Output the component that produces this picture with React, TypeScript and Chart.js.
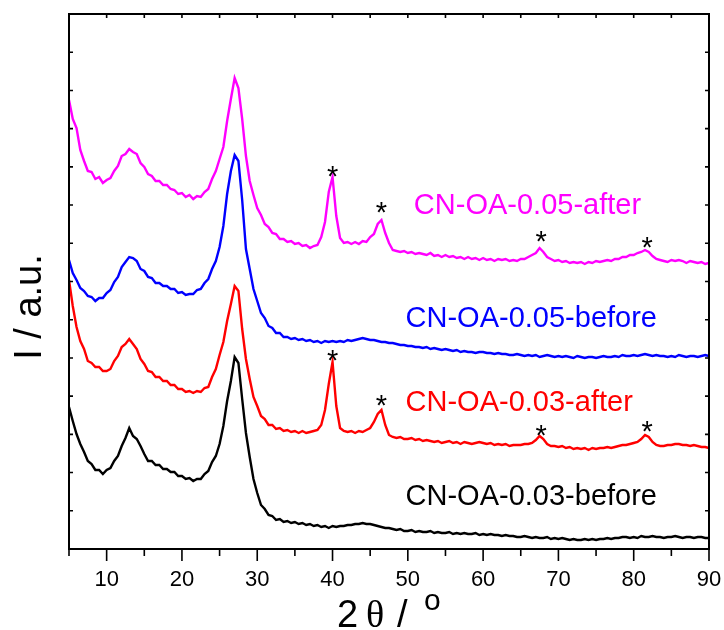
import React, { useEffect, useRef } from "react";
import { Chart, registerables } from "chart.js";

Chart.register(...registerables);

// 2θ sampling grid (degrees)
const theta = [
  5, 5.5, 6, 6.5, 7, 7.5, 8, 8.5, 9, 9.5,
  10, 10.5, 11, 11.5, 12, 12.5, 13, 13.5, 14, 14.5,
  15, 15.5, 16, 16.5, 17, 17.5, 18, 18.5, 19, 19.5,
  20, 20.5, 21, 21.5, 22, 22.5, 23, 23.5, 24, 24.5,
  25, 25.5, 26, 26.5, 27, 27.5, 28, 28.5, 29, 29.5,
  30, 30.5, 31, 31.5, 32, 32.5, 33, 33.5, 34, 34.5,
  35, 35.5, 36, 36.5, 37, 37.5, 38, 38.5, 39, 39.5,
  40, 40.5, 41, 41.5, 42, 42.5, 43, 43.5, 44, 44.5,
  45, 45.5, 46, 46.5, 47, 47.5, 48, 48.5, 49, 49.5,
  50, 50.5, 51, 51.5, 52, 52.5, 53, 53.5, 54, 54.5,
  55, 55.5, 56, 56.5, 57, 57.5, 58, 58.5, 59, 59.5,
  60, 60.5, 61, 61.5, 62, 62.5, 63, 63.5, 64, 64.5,
  65, 65.5, 66, 66.5, 67, 67.5, 68, 68.5, 69, 69.5,
  70, 70.5, 71, 71.5, 72, 72.5, 73, 73.5, 74, 74.5,
  75, 75.5, 76, 76.5, 77, 77.5, 78, 78.5, 79, 79.5,
  80, 80.5, 81, 81.5, 82, 82.5, 83, 83.5, 84, 84.5,
  85, 85.5, 86, 86.5, 87, 87.5, 88, 88.5, 89, 89.5,
  90,
];

// Intensities (a.u., offset stacked)
const cnOa005After = [
  449, 430, 421, 399, 388, 378, 377, 370, 372, 366,
  369, 371, 378, 383, 393, 395, 400, 397, 395, 386,
  382, 375, 373, 368, 368, 364, 364, 360, 359, 355,
  356, 352, 354, 350, 353, 352, 357, 360, 370, 378,
  390, 402, 428, 450, 471, 461, 430, 393, 368, 354,
  341, 334, 325, 322, 316, 315, 310, 310, 307, 308,
  305, 306, 303, 304, 301, 303, 304, 312, 327, 357,
  372, 333, 311, 306, 307, 305, 307, 305, 308, 307,
  312, 315, 325, 329, 316, 306, 299, 298, 297, 298,
  296, 297, 295, 296, 295, 294, 296, 293, 294, 292,
  294, 292, 293, 291, 292, 290, 292, 290, 291, 289,
  291, 289, 290, 288, 290, 289, 290, 288, 289, 288,
  290, 290, 292, 294, 296, 301, 297, 292, 290, 288,
  289, 287, 288, 286, 287, 286, 287, 285, 287, 286,
  288, 287, 288, 289, 288, 290, 290, 292, 292, 294,
  294, 296, 297, 299, 297, 293, 290, 289, 288, 287,
  289, 288, 289, 288, 286, 288, 287, 286, 287, 285,
  286,
];

const cnOa005Before = [
  289, 276, 269, 261, 258, 253, 252, 248, 251, 251,
  256, 259, 267, 272, 282, 287, 292, 291, 288, 280,
  278, 272, 271, 266, 266, 263, 263, 260, 260, 256,
  257, 254, 255, 255, 259, 260, 266, 270, 280, 288,
  302, 323, 355, 378, 394, 388, 349, 300, 280, 260,
  248, 236, 231, 223, 221, 216, 216, 212, 212, 210,
  211, 209, 210, 208, 209, 207, 208, 206, 208, 207,
  208, 207, 208, 207, 209, 208, 209, 210, 211, 210,
  209, 209, 208, 207, 207, 206, 206, 205, 204, 204,
  203, 203, 202, 202, 201, 202, 200, 201, 200, 199,
  200, 199, 198, 199, 197, 198, 197, 197, 196, 197,
  197, 196, 196, 195, 196, 195, 195, 194, 194, 195,
  194, 193, 194, 193, 194, 192, 193, 194, 193, 192,
  193, 192, 193, 192, 191, 193, 192, 191, 192, 192,
  191, 192, 193, 192, 192, 193, 192, 194, 193, 193,
  194, 193, 194, 195, 194, 193, 194, 193, 193, 192,
  193, 192, 194, 193, 192, 193, 193, 192, 193, 194,
  193,
];

const cnOa003After = [
  269, 243, 222, 208, 200, 188, 186, 182, 182, 178,
  178, 180, 188, 193, 202, 205, 210, 205, 200, 190,
  185, 178, 177, 172, 172, 168, 168, 164, 164, 160,
  160, 157, 158, 156, 158, 157, 161, 162, 172, 180,
  194, 207, 228, 245, 263, 258, 220, 190, 170, 152,
  143, 133, 130, 124, 124, 120, 121, 118, 119, 117,
  118, 116, 118, 116, 117, 118, 119, 124, 139, 165,
  187, 143, 121, 118, 117, 118, 116, 118, 117, 119,
  121, 127, 135, 139, 124, 114, 112, 111, 112, 110,
  110, 111, 109, 110, 108, 109, 108, 107, 108, 106,
  107, 108, 106, 107, 105, 107, 106, 105, 106, 107,
  106, 105, 106, 104, 105, 104, 105, 103, 104, 104,
  104, 105, 105, 106, 109, 113, 110, 105, 103, 103,
  102, 103, 101, 102, 100, 101, 100, 101, 99, 101,
  100, 101, 101, 102, 101, 102, 103, 104, 104, 105,
  106, 107, 110, 114, 112, 107, 104, 103, 103, 104,
  104, 105, 105, 104, 104, 103, 104, 103, 102, 102,
  101,
];

const cnOa003Before = [
  142, 128, 115, 105, 97, 88, 85, 79, 79, 75,
  79, 81, 88, 93, 103, 111, 121, 113, 110, 103,
  95, 88, 88, 84, 84, 80, 80, 77, 77, 73,
  73, 70, 71, 68, 70, 70, 75, 78, 87, 93,
  105, 123, 148, 168, 192, 186, 150, 116, 92, 70,
  56, 44, 40, 34, 33, 29, 30, 27, 28, 26,
  27, 25, 26, 24, 25, 23, 24, 22, 23, 21,
  23, 22, 23, 23, 24, 24, 25, 25, 26, 25,
  25, 24, 23, 22, 21, 21, 20, 19, 20, 18,
  18, 19, 17, 18, 17, 17, 18, 16, 17, 16,
  16, 17, 15, 16, 15, 16, 15, 15, 16, 14,
  15, 14, 15, 14, 14, 13, 14, 13, 13, 12,
  12, 13, 12, 11, 12, 11, 11, 12, 10, 11,
  10, 11, 10, 9, 10, 9, 9, 10, 9, 10,
  9, 10, 10, 11, 10, 11, 11, 12, 12, 11,
  12, 11, 13, 12, 12, 13, 12, 12, 11, 12,
  12, 13, 12, 11, 12, 12, 11, 12, 12, 11,
  11,
];

const seriesNames = ["CN-OA-0.05-after", "CN-OA-0.05-before", "CN-OA-0.03-after", "CN-OA-0.03-before"];
const seriesColors = ["#ff00ff", "#0000ff", "#ff0000", "#000000"];
const seriesData = [cnOa005After, cnOa005Before, cnOa003After, cnOa003Before];

// in-plot label anchors (2θ, level)
const labelTheta = [50.8, 49.7, 49.7, 49.7];
const labelLevel = [335, 222, 138, 44];

// asterisk marks (2θ, level) over the "after" patterns
const starTheta = [40, 46.5, 67.7, 81.8];
const starLevel005After = [380, 344, 315, 309];
const starLevel003After = [196, 151, 121, 125];

const xTickValues = [5, 10, 15, 20, 25, 30, 35, 40, 45, 50, 55, 60, 65, 70, 75, 80, 85, 90];
const xTickLabels = ["", "10", "", "20", "", "30", "", "40", "", "50", "", "60", "", "70", "", "80", "", "90"];
const yTickValues = [0, 38.21, 76.43, 114.64, 152.86, 191.07, 229.29, 267.5, 305.71, 343.93, 382.14, 420.36, 458.57, 496.79, 535];

const SANS = "'Liberation Sans', Arial, sans-serif";
const SERIF = "'Liberation Serif', 'Times New Roman', serif";

const decorPlugin = {
  id: "decor",
  afterDraw(chart: any) {
    const ctx = chart.ctx;
    const { left, right, top, bottom } = chart.chartArea;
    const xs = chart.scales.x;
    const ys = chart.scales.y;
    ctx.save();
    ctx.strokeStyle = "#000";
    ctx.lineWidth = 2;
    ctx.strokeRect(left, top, right - left, bottom - top);

    ctx.lineWidth = 1.6;
    ctx.beginPath();
    xTickValues.forEach((v) => {
      const px = xs.getPixelForValue(v);
      const major = v % 10 === 0;
      ctx.moveTo(px, bottom);
      ctx.lineTo(px, bottom + (major ? 12 : 7));
      ctx.moveTo(px, top);
      ctx.lineTo(px, top + 4);
    });
    yTickValues.forEach((v) => {
      const py = ys.getPixelForValue(v);
      ctx.moveTo(left, py);
      ctx.lineTo(left + 4, py);
      ctx.moveTo(right, py);
      ctx.lineTo(right - 4, py);
    });
    ctx.stroke();

    // series labels
    ctx.textAlign = "left";
    ctx.textBaseline = "alphabetic";
    ctx.font = `29px ${SANS}`;
    seriesNames.forEach((name, i) => {
      ctx.fillStyle = seriesColors[i];
      ctx.fillText(name, xs.getPixelForValue(labelTheta[i]), ys.getPixelForValue(labelLevel[i]));
    });

    // asterisks
    ctx.fillStyle = "#000";
    ctx.textAlign = "center";
    ctx.font = `29px ${SANS}`;
    const drawStar = (t: number, lvl: number) => {
      ctx.fillText("*", xs.getPixelForValue(t), ys.getPixelForValue(lvl) + 17);
    };
    starTheta.forEach((t, i) => drawStar(t, starLevel005After[i]));
    starTheta.forEach((t, i) => drawStar(t, starLevel003After[i]));

    // x-axis title: 2 θ / °
    const cx = (left + right) / 2;
    const by = 627;
    ctx.textAlign = "left";
    ctx.font = `38px ${SANS}`;
    ctx.fillText("2", cx - 52, by);
    ctx.font = `38px ${SERIF}`;
    ctx.fillText("\u03b8", cx - 23, by);
    ctx.font = `38px ${SANS}`;
    ctx.fillText("/", cx + 8, by);
    ctx.font = `30px ${SANS}`;
    ctx.fillText("o", cx + 35, by - 17);

    // y-axis title
    ctx.translate(41, 307);
    ctx.rotate(-Math.PI / 2);
    ctx.textAlign = "center";
    ctx.font = `38px ${SANS}`;
    ctx.fillText("I / a.u.", 0, 0);
    ctx.restore();
  },
};

export default function App() {
  const ref = useRef<HTMLCanvasElement>(null);
  useEffect(() => {
    if (!ref.current) return;
    const chart = new Chart(ref.current, {
      type: "line",
      data: {
        datasets: seriesData.map((arr, i) => ({
          label: seriesNames[i],
          data: arr.map((y, j) => ({ x: theta[j], y })),
          borderColor: seriesColors[i],
          backgroundColor: seriesColors[i],
          borderWidth: 2.4,
          pointRadius: 0,
          tension: 0,
          fill: false,
        })),
      },
      options: {
        responsive: false,
        animation: false,
        layout: { padding: { top: 14, right: 15, left: 0, bottom: 0 } },
        plugins: { legend: { display: false }, tooltip: { enabled: false } },
        scales: {
          x: {
            type: "linear",
            min: 5,
            max: 90,
            afterBuildTicks: (s: any) => {
              s.ticks = xTickValues.map((v) => ({ value: v }));
            },
            afterFit: (s: any) => {
              s.height = 81;
              s.paddingLeft = 0;
              s.paddingRight = 0;
            },
            grid: { display: false, drawTicks: false },
            border: { display: false },
            ticks: {
              autoSkip: false,
              maxRotation: 0,
              padding: 18,
              color: "#000",
              font: { family: SANS, size: 22 },
              callback: (_v: any, idx: number) => xTickLabels[idx],
            },
          },
          y: {
            type: "linear",
            min: 0,
            max: 535,
            afterBuildTicks: (s: any) => {
              s.ticks = yTickValues.map((v) => ({ value: v }));
            },
            afterFit: (s: any) => {
              s.width = 69;
              s.paddingTop = 0;
              s.paddingBottom = 0;
            },
            grid: { display: false, drawTicks: false },
            border: { display: false },
            ticks: { display: false },
          },
        },
      },
      plugins: [decorPlugin],
    });
    return () => chart.destroy();
  }, []);
  return (
    <div style={{ position: "absolute", left: 0, top: 0, width: 724, height: 630 }}>
      <canvas ref={ref} width={724} height={630} style={{ display: "block" }} />
    </div>
  );
}
